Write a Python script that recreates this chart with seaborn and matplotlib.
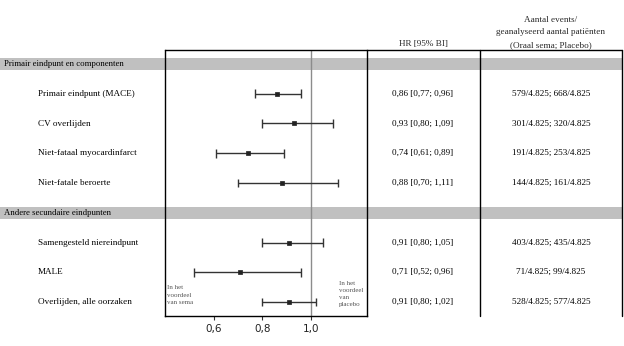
import matplotlib
matplotlib.use("Agg")
import matplotlib.pyplot as plt
import seaborn as sns
import pandas as pd
from matplotlib.lines import Line2D
from matplotlib.patches import Rectangle

# ---- data ----
sections = ["Primair eindpunt en componenten", "Andere secundaire eindpunten"]
labels = ["Primair eindpunt (MACE)", "CV overlijden", "Niet-fataal myocardinfarct",
          "Niet-fatale beroerte", "Samengesteld niereindpunt", "MALE",
          "Overlijden, alle oorzaken"]
section_of = [0, 0, 0, 0, 1, 1, 1]
hr = [0.86, 0.93, 0.74, 0.88, 0.91, 0.71, 0.91]
ci_lo = [0.77, 0.80, 0.61, 0.70, 0.80, 0.52, 0.80]
ci_hi = [0.96, 1.09, 0.89, 1.11, 1.05, 0.96, 1.02]
hr_text = ["0,86 [0,77; 0,96]", "0,93 [0,80; 1,09]", "0,74 [0,61; 0,89]",
           "0,88 [0,70; 1,11]", "0,91 [0,80; 1,05]", "0,71 [0,52; 0,96]",
           "0,91 [0,80; 1,02]"]
events_text = ["579/4.825; 668/4.825", "301/4.825; 320/4.825", "191/4.825; 253/4.825",
               "144/4.825; 161/4.825", "403/4.825; 435/4.825", "71/4.825; 99/4.825",
               "528/4.825; 577/4.825"]
xticks = [0.6, 0.8, 1.0]
xtick_labels = ["0,6", "0,8", "1,0"]

# row positions: section header, rows...
rows = []
pos = 0
sec_pos = []
for s in range(len(sections)):
    sec_pos.append(pos)
    pos += 1
    for i, so in enumerate(section_of):
        if so == s:
            rows.append(pos)
            pos += 1
df = pd.DataFrame({"label": labels, "hr": hr, "lo": ci_lo, "hi": ci_hi, "row": rows})

W, H = 624, 346
sns.set_theme(style="white")
plt.rcParams["font.family"] = ["Liberation Serif", "DejaVu Serif"]
fig = plt.figure(figsize=(W / 100, H / 100), dpi=100)

def fx(px):
    return px / W

def fy(py):
    return 1 - py / H

L, R, T, B = 165, 367, 50, 316
ax = fig.add_axes([fx(L), fy(B), fx(R) - fx(L), fy(T) - fy(B)])
ax.patch.set_alpha(0)
ax.set_xlim(0.40, 1.23)
ylo, yhi = -0.47, pos - 1 + 0.47
ax.set_ylim(yhi, ylo)

# reference line
ax.axvline(1.0, color="#8c8c8c", lw=1.0, zorder=1)

# CIs
for _, r in df.iterrows():
    ax.hlines(r["row"], r["lo"], r["hi"], color="#333333", lw=1.0, zorder=2)
    ax.vlines([r["lo"], r["hi"]], r["row"] - 0.15, r["row"] + 0.15, color="#333333", lw=1.0, zorder=2)
sns.scatterplot(data=df, x="hr", y="row", ax=ax, marker="s", s=8, color="#222222",
                edgecolor="#222222", linewidth=0.5, zorder=3, legend=False)

ax.set_xlabel("")
ax.set_ylabel("")
ax.set_yticks([])
ax.set_xticks(xticks)
ax.set_xticklabels(xtick_labels, fontfamily="DejaVu Sans", fontsize=7.5, color="#222222")
ax.tick_params(axis="x", direction="out", length=3, width=0.8, color="#333333", pad=3, bottom=True)
for sp in ["left", "right", "bottom"]:
    ax.spines[sp].set_visible(True)
    ax.spines[sp].set_color("black")
    ax.spines[sp].set_linewidth(1.0)
ax.spines["top"].set_visible(False)

# annotations inside the forest panel
ax.text(0.41, 7.77, "In het\nvoordeel\nvan sema", fontsize=5, color="#555555",
        va="center", ha="left", linespacing=1.55)
ax.text(1.115, 7.73, "In het\nvoordeel\nvan\nplacebo", fontsize=5, color="#555555",
        va="center", ha="left", linespacing=1.55)

# figure-level: bands, lines, texts
def row_py(r):
    return 64 + (r - 0) * (B - T) / (yhi - ylo)

band_h = 12
for s, sp_ in enumerate(sec_pos):
    cy = row_py(sp_)
    fig.add_artist(Rectangle((0, fy(cy + band_h / 2)), fx(622), band_h / H,
                             transform=fig.transFigure, facecolor="#c0c0c0",
                             edgecolor="none", zorder=-1))
    fig.text(fx(4), fy(cy), sections[s], fontsize=6.3, va="center", ha="left", color="black")

def vline(px, y0, y1, color="black", lw=1.0):
    fig.add_artist(Line2D([fx(px), fx(px)], [fy(y0), fy(y1)], transform=fig.transFigure,
                          color=color, lw=lw))

vline(480, T, B)
vline(622, T, B)
fig.add_artist(Line2D([fx(L), fx(622)], [fy(T), fy(T)], transform=fig.transFigure,
                      color="black", lw=1.0))

for i, r in enumerate(rows):
    cy = row_py(r)
    fig.text(fx(38), fy(cy), labels[i], fontsize=6.6, va="center", ha="left", color="black")
    fig.text(fx(423), fy(cy), hr_text[i], fontsize=6.6, va="center", ha="center", color="black")
    fig.text(fx(551), fy(cy), events_text[i], fontsize=6.6, va="center", ha="center", color="black")

fig.text(fx(423), fy(44), "HR [95% BI]", fontsize=6.6, va="center", ha="center")
fig.text(fx(551), fy(20), "Aantal events/", fontsize=6.6, va="center", ha="center")
fig.text(fx(551), fy(32), "geanalyseerd aantal patiënten", fontsize=6.6, va="center", ha="center")
fig.text(fx(551), fy(45), "(Oraal sema; Placebo)", fontsize=6.6, va="center", ha="center")

fig.savefig("out.png", dpi=100, facecolor="white")
